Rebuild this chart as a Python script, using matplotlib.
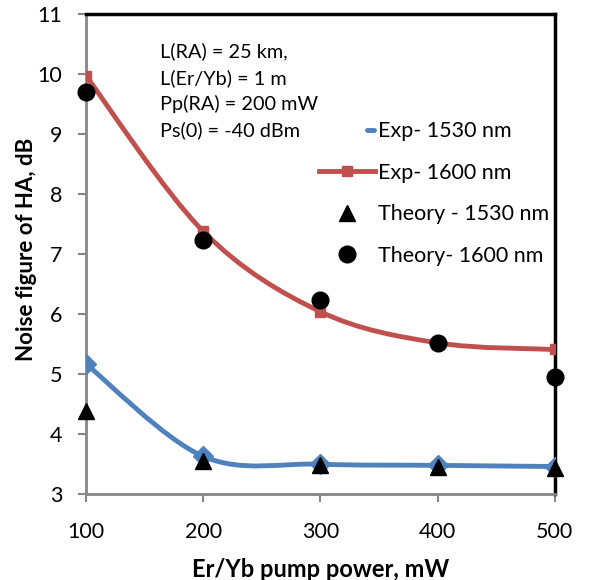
import numpy as np
import matplotlib
matplotlib.use("Agg")
import matplotlib.pyplot as plt
from matplotlib.path import Path
from matplotlib.patches import PathPatch
from matplotlib.lines import Line2D
from matplotlib.legend_handler import HandlerBase

plt.rcParams['font.family'] = ['Lato', 'DejaVu Sans']

# data
power = [100, 200, 300, 400, 500]
exp_1530 = [5.17, 3.63, 3.50, 3.48, 3.46]
exp_1600 = [9.97, 7.38, 6.04, 5.52, 5.41]
theory_1530 = [4.38, 3.56, 3.49, 3.46, 3.43]
theory_1600 = [9.70, 7.23, 6.23, 5.52, 4.96]

RED = '#C0504D'
BLUE = '#4F81BD'
GREY = '#868686'


def smooth_path(x, y):
    # Excel style smoothed line: cubic bezier through the points
    pts = np.column_stack([x, y]).astype(float)
    n = len(pts)
    verts = [pts[0]]
    codes = [Path.MOVETO]
    for i in range(n - 1):
        p0 = pts[i - 1] if i > 0 else pts[i]
        p1 = pts[i]
        p2 = pts[i + 1]
        p3 = pts[i + 2] if i + 2 < n else pts[i + 1]
        c1 = p1 + (p2 - p0) / 6.0
        c2 = p2 - (p3 - p1) / 6.0
        verts += [c1, c2, p2]
        codes += [Path.CURVE4] * 3
    return Path(verts, codes)


class StubHandler(HandlerBase):
    # the blue legend key in the original is only a short stub next to the text
    def create_artists(self, legend, orig_handle, xdescent, ydescent,
                       width, height, fontsize, trans):
        yc = (height - ydescent) / 2
        x1 = width - xdescent - 1
        ln = Line2D([x1 - 5, x1], [yc, yc], color=orig_handle.get_color(),
                    lw=3.5, solid_capstyle='round', transform=trans)
        return [ln]


fig = plt.figure(figsize=(6.01, 5.80), dpi=100)
ax = fig.add_axes([0.143, 0.148, 0.780, 0.828])

for xs, ys, col in [(power, exp_1530, BLUE), (power, exp_1600, RED)]:
    ax.add_patch(PathPatch(smooth_path(xs, ys), facecolor='none', edgecolor=col,
                           lw=3.5, capstyle='round', joinstyle='round', zorder=2))

ax.plot(power, exp_1530, ls='none', marker='D', ms=10, color=BLUE, zorder=3)
ax.plot(power, exp_1600, ls='none', marker='s', ms=7, color=RED, zorder=3)
ax.plot(power, theory_1530, ls='none', marker='^', ms=12, color='black', zorder=4, clip_on=False)
ax.plot(power, theory_1600, ls='none', marker='o', ms=12, color='black', zorder=4, clip_on=False)

blue_key = Line2D([], [], color=BLUE, lw=3.5)
handles = [
    blue_key,
    Line2D([], [], color=RED, lw=3.5, marker='s', ms=7),
    Line2D([], [], ls='none', marker='^', ms=12, color='black'),
    Line2D([], [], ls='none', marker='o', ms=12, color='black'),
]
labels = ['Exp- 1530 nm', 'Exp- 1600 nm', 'Theory - 1530 nm', 'Theory- 1600 nm']
ax.legend(handles, labels, loc='center left', bbox_to_anchor=(0.497, 0.626),
          frameon=False, fontsize=15.5, borderpad=0, borderaxespad=0,
          handlelength=2.6, handletextpad=0.15, labelspacing=1.0,
          handler_map={blue_key: StubHandler()})

ax.text(0.158, 0.94, 'L(RA) = 25 km,\nL(Er/Yb) = 1 m\nPp(RA) = 200 mW\nPs(0) = -40 dBm',
        transform=ax.transAxes, fontsize=14.3, va='top', ha='left', linespacing=1.55)

ax.set_xlim(100, 500)
ax.set_ylim(3, 11)
ax.set_xticks(power)
ax.set_yticks(range(3, 12))
ax.tick_params(labelsize=15.5, direction='out', length=6, width=1.5, color=GREY, pad=11)
ax.tick_params(axis='x', pad=14)

for side in ['left', 'bottom']:
    ax.spines[side].set_color(GREY)
    ax.spines[side].set_linewidth(2)
for side in ['top', 'right']:
    ax.spines[side].set_color('black')
    ax.spines[side].set_linewidth(2.5)

ax.set_xlabel('Er/Yb pump power, mW', fontsize=17, fontweight='bold')
ax.set_ylabel('Noise figure of HA, dB', fontsize=16, fontweight='bold')
ax.xaxis.set_label_coords(0.5, -0.133)
ax.yaxis.set_label_coords(-0.104, 0.51)

fig.savefig('out.png', dpi=100)
